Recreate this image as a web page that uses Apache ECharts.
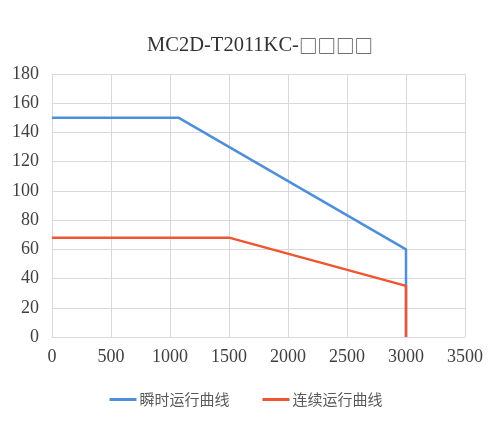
<!DOCTYPE html>
<html>
<head>
<meta charset="utf-8">
<script src="https://cdn.jsdelivr.net/npm/echarts@6/dist/echarts.min.js"></script>
<style>
  html, body { margin: 0; padding: 0; background: #fff; }
  #chart { width: 492px; height: 432px; }
</style>
</head>
<body>
<div id="chart"></div>
<script>
// Data
const titleModel = "MC2D-T2011KC-";
const titleBoxes = "□□□□";
const seriesNames = ["瞬时运行曲线", "连续运行曲线"];
const instantPts = [[0, 150], [1075, 150], [3000, 60], [3000, 0]];
const continuousPts = [[0, 68], [1500, 68], [3000, 35], [3000, 0]];

const SERIF = '"Liberation Serif", "DejaVu Serif", serif';
const CJK = '"Noto Sans CJK SC", "Noto Sans", sans-serif';
const GRID = "#d9d9d9";
const INK = "#404040";

const chart = echarts.init(document.getElementById("chart"), null, { renderer: "canvas" });

chart.setOption({
  animation: false,
  title: {
    text: `{a|${titleModel}}{b|${titleBoxes}}`,
    left: 255,
    textAlign: "center",
    top: 30,
    textStyle: {
      fontWeight: "normal",
      rich: {
        a: { fontFamily: SERIF, fontSize: 20.5, fontWeight: "normal", color: "#333" },
        b: { fontFamily: CJK, fontSize: 18.5, fontWeight: "normal", color: "#444" },
      },
    },
  },
  legend: {
    bottom: 20,
    left: "center",
    itemWidth: 27,
    itemHeight: 3,
    itemGap: 33,
    icon: "rect",
    textStyle: { fontFamily: CJK, fontSize: 15, color: "#595959", padding: [0, 0, 0, -2] },
    data: seriesNames,
  },
  grid: { left: 52, right: 27, top: 74, bottom: 95 },
  xAxis: {
    type: "value",
    min: 0,
    max: 3500,
    interval: 500,
    axisLine: { show: true, lineStyle: { color: GRID } },
    axisTick: { show: false },
    axisLabel: { fontFamily: SERIF, fontSize: 18, color: INK, margin: 11, formatter: (v) => String(v) },
    splitLine: { show: true, lineStyle: { color: GRID, width: 1 } },
  },
  yAxis: {
    type: "value",
    min: 0,
    max: 180,
    interval: 20,
    axisLine: { show: true, lineStyle: { color: GRID } },
    axisTick: { show: false },
    axisLabel: { fontFamily: SERIF, fontSize: 18, color: INK, margin: 13 },
    splitLine: { show: true, lineStyle: { color: GRID, width: 1 } },
  },
  series: [
    {
      name: seriesNames[0],
      type: "line",
      data: instantPts,
      symbol: "none",
      lineStyle: { color: "#4e8fdb", width: 2.5 },
      itemStyle: { color: "#4e8fdb" },
    },
    {
      name: seriesNames[1],
      type: "line",
      data: continuousPts,
      symbol: "none",
      lineStyle: { color: "#ee5530", width: 2.5 },
      itemStyle: { color: "#ee5530" },
    },
  ],
});
</script>
</body>
</html>
